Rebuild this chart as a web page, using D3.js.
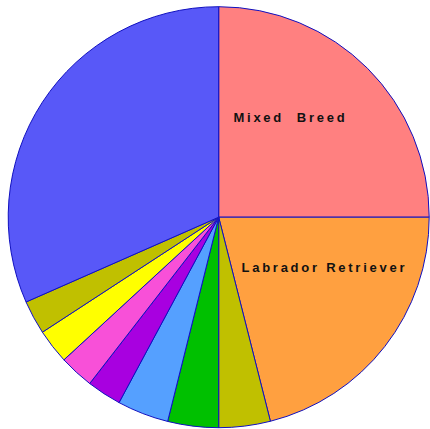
<!DOCTYPE html>
<html>
<head>
<meta charset="utf-8">
<script src="https://cdn.jsdelivr.net/npm/d3@7"></script>
<style>
  body { margin: 0; background: #fff; }
  svg { display: block; }
  .label { font-family: "Liberation Sans", Arial, sans-serif; font-size: 13px; font-weight: bold; letter-spacing: 2.75px; white-space: pre; fill: #111; }
</style>
</head>
<body>
<script>
var width = 430,
    height = 429;

// slices, clockwise from 12 o'clock (percent of total)
var breeds = ["Mixed  Breed", "Labrador Retriever", "Breed 3", "Breed 4", "Breed 5", "Breed 6", "Breed 7", "Breed 8", "Breed 9", "Breed 10"];
var shares = [25.0, 21.05, 3.95, 3.9, 3.95, 2.65, 2.65, 2.65, 2.6, 31.6];
var colors = ["#ff8080", "#ffa040", "#c0c000", "#00c000", "#55a0ff", "#a800e0", "#f850d8", "#ffff00", "#c0c000", "#5858f8"];
var showLabel = [true, true, false, false, false, false, false, false, false, false];

var cx = 218.7, cy = 217.2, radius = 210.5;

// label placement: radius and angle nudge (rad) from the slice middle
var labelR = [123, 117];
var labelTurn = [-0.163, -0.218];

var data = breeds.map(function(b, i){ return { name: b, value: shares[i], color: colors[i], label: showLabel[i] }; });

var svg = d3.select("body").append("svg").attr("width", width).attr("height", height);
var g = svg.append("g").attr("transform", "translate(" + cx + "," + cy + ")");

var pie = d3.pie().sort(null).value(function(d){ return d.value; });
var arc = d3.arc().innerRadius(0).outerRadius(radius);

var arcs = pie(data);

g.selectAll("path.slice")
    .data(arcs)
  .enter().append("path")
    .attr("class", "slice")
    .attr("d", arc)
    .attr("fill", function(d){ return d.data.color; })
    .attr("stroke", "#1010c0")
    .attr("stroke-width", 1)
    .attr("stroke-linejoin", "round");

function labelPos(d, i){
  var a = (d.startAngle + d.endAngle) / 2 + labelTurn[i];
  return [Math.sin(a) * labelR[i], -Math.cos(a) * labelR[i] + 4.5];
}

g.selectAll("text.label")
    .data(arcs.filter(function(d){ return d.data.label; }))
  .enter().append("text")
    .attr("class", "label")
    .attr("text-anchor", "middle")
    .attr("x", function(d, i){ return labelPos(d, i)[0]; })
    .attr("y", function(d, i){ return labelPos(d, i)[1]; })
    .text(function(d){ return d.data.name; });
</script>
</body>
</html>
